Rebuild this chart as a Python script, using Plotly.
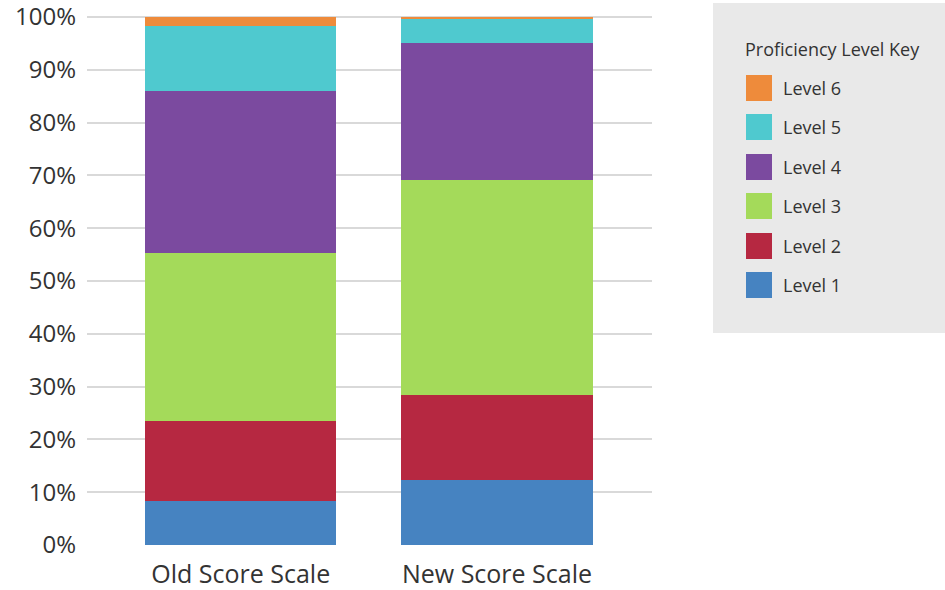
import plotly.graph_objects as go

categories = ["Old Score Scale", "New Score Scale"]
levels = ["Level 1", "Level 2", "Level 3", "Level 4", "Level 5", "Level 6"]
level1 = [8.3, 12.4]
level2 = [15.2, 16.1]
level3 = [31.9, 40.7]
level4 = [30.6, 25.8]
level5 = [12.4, 4.6]
level6 = [1.6, 0.4]
colors = ["#4683C1", "#B62841", "#A4DA5A", "#7B4A9F", "#4FC9CF", "#EE8B3B"]
y_ticks = list(range(0, 101, 10))
y_tick_labels = [f"{v}%" for v in y_ticks]
legend_title = "Proficiency Level Key"

W, H = 945, 590
L, R, T, B = 87, 293, 16, 45
pw, ph = W - L - R, H - T - B

def px_x(x):
    return (x - L) / pw

def px_y(y):
    return (H - B - y) / ph

series = [level1, level2, level3, level4, level5, level6]
fig = go.Figure()
for name, vals, col in zip(levels, series, colors):
    fig.add_trace(go.Bar(x=categories, y=vals, name=name, marker_color=col,
                         marker_line_width=0, width=0.746, showlegend=False))

fig.update_layout(
    barmode="stack",
    width=W, height=H,
    margin=dict(l=L, r=R, t=T, b=B, autoexpand=False),
    paper_bgcolor="white", plot_bgcolor="white",
    font=dict(family="Open Sans, Lato, sans-serif", color="#333333"),
)
fig.update_yaxes(range=[0, 100.2], tickvals=y_ticks, ticktext=y_tick_labels,
                 showgrid=True, gridcolor="#D9D9D9", gridwidth=1.5,
                 zeroline=False, showline=False, ticks="", automargin=False,
                 ticklabeloverflow="allow",
                 tickfont=dict(size=24, color="#333333"), ticklabelstandoff=10)
fig.update_xaxes(range=[-0.6, 1.605], showgrid=False, showline=False,
                 zeroline=False, ticks="", automargin=False,
                 tickfont=dict(size=25, color="#333333"), ticklabelstandoff=12)

# legend key box
shapes = [dict(type="rect", xref="paper", yref="paper",
               x0=px_x(713), x1=px_x(945), y0=px_y(3), y1=px_y(333),
               fillcolor="#E9E9E9", line_width=0, layer="below")]
annotations = [dict(text=legend_title, xref="paper", yref="paper",
                    x=px_x(743), y=px_y(49), xanchor="left", yanchor="middle",
                    showarrow=False, font=dict(size=18, color="#333333"))]
item_y = [285, 246, 206, 167, 127, 88]
for name, col, cy in zip(levels, colors, item_y):
    shapes.append(dict(type="rect", xref="paper", yref="paper",
                       x0=px_x(746), x1=px_x(772), y0=px_y(cy - 13), y1=px_y(cy + 13),
                       fillcolor=col, line_width=0))
    annotations.append(dict(text=name, xref="paper", yref="paper",
                            x=px_x(781), y=px_y(cy), xanchor="left", yanchor="middle",
                            showarrow=False, font=dict(size=18, color="#333333")))
fig.update_layout(shapes=shapes, annotations=annotations)

fig.write_html("out.html")
